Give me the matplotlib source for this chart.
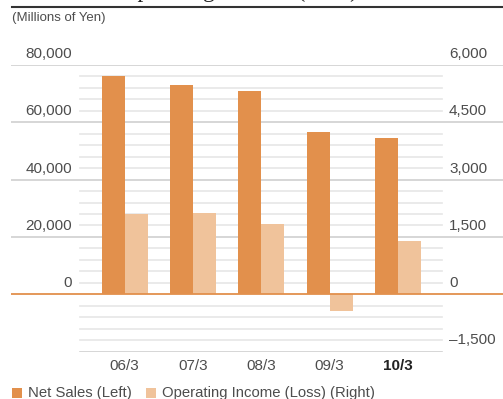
import matplotlib
matplotlib.use("Agg")
import matplotlib.pyplot as plt
from matplotlib.patches import Rectangle
import numpy as np

# Fiscal years and values
categories = ["06/3", "07/3", "08/3", "09/3", "10/3"]
net_sales = [76200, 73000, 70900, 56600, 54500]          # millions of yen (left axis)
operating_income = [2100, 2120, 1830, -440, 1390]        # millions of yen (right axis)
left_ticks = [0, 20000, 40000, 60000, 80000]
right_ticks = [-1500, 0, 1500, 3000, 4500, 6000]

ORANGE = "#E2904C"
LIGHT = "#F0C39B"
TEXT = "#4d4d4d"
FONT = "Liberation Sans"

W, H = 503, 399
fig = plt.figure(figsize=(W / 100, H / 100), dpi=100)

def fx(px):
    return px / W

def fy(py):
    return 1 - py / H

# axes covering the plotting band (pixels 11..503 horizontally, 65..351.5 vertically)
ax_l, ax_r, ax_t, ax_b = 11, 503, 65, 351.5
ax = fig.add_axes([fx(ax_l), fy(ax_b), fx(ax_r - ax_l), (ax_b - ax_t) / H])
ax2 = ax.twinx()
for a in (ax, ax2):
    a.set_axis_off()

unit = 68.3
xmin = -(124.7 - ax_l) / unit
xmax = xmin + (ax_r - ax_l) / unit
ax.set_xlim(xmin, xmax)
ax.set_ylim(-20000, 80000)
ax2.set_ylim(-1500, 6000)

# minor gridlines
g0 = (80 - ax_l) / (ax_r - ax_l)
g1 = (442 - ax_l) / (ax_r - ax_l)
for v in np.arange(-20000, 80001, 4000):
    if v % 20000 == 0 and v >= 0:
        continue
    col = "#d0d0d0" if v == -20000 else "#e6e6e6"
    ax.axhline(v, g0, g1, color=col, lw=1.2, zorder=0)
# major gridlines
for v in left_ticks[1:]:
    ax.axhline(v, 0, 1, color="#cfcfcf", lw=1.2, zorder=0)

x = np.arange(len(categories))
bw = 23 / unit
ax.bar(x - bw / 2, net_sales, width=bw, color=ORANGE, zorder=2, linewidth=0)
ax2.bar(x + bw / 2, operating_income, width=bw, color=LIGHT, zorder=2, linewidth=0)
ax2.axhline(0, 0, 1, color=ORANGE, lw=1.3, zorder=3)

# tick labels
def left_px(v):
    return 294.2 - v * (229.2 / 80000)

for v in left_ticks:
    fig.text(fx(72), fy(left_px(v) - 4), f"{v:,}", ha="right", va="bottom",
             fontsize=11, color=TEXT, family=FONT)
for v in right_ticks:
    py = 294.2 - v * (229.2 / 6000)
    lab = f"{v:,}".replace("-", "\u2013")
    fig.text(fx(449), fy(py - 4), lab, ha="left", va="bottom",
             fontsize=11, color=TEXT, family=FONT)

for i, c in enumerate(categories):
    fig.text(fx(124.7 + unit * i), fy(366), c, ha="center", va="center",
             fontsize=11, color=TEXT if i < 4 else "#222222", family=FONT,
             fontweight="bold" if i == 4 else "normal")

# unit note
fig.text(fx(12), fy(18), "(Millions of Yen)", ha="left", va="center",
         fontsize=9.5, color=TEXT, family=FONT)

# heading (runs off the top edge) and rule
fig.text(fx(12), fy(-2.5), "Net Sales / Operating Income (Loss)", ha="left",
         va="baseline", fontsize=17, color="#222222", family="Liberation Serif")
fig.add_artist(plt.Line2D([fx(12), fx(503)], [fy(6.5), fy(6.5)],
                          color="#333333", lw=1.5, transform=fig.transFigure))

# legend
for sx, col, lab in [(12, ORANGE, "Net Sales (Left)"),
                     (146, LIGHT, "Operating Income (Loss) (Right)")]:
    fig.add_artist(Rectangle((fx(sx), fy(398)), fx(10), 10 / H,
                             color=col, transform=fig.transFigure, lw=0))
    fig.text(fx(sx + 16), fy(393), lab, ha="left", va="center",
             fontsize=10.7, color=TEXT, family=FONT)

fig.savefig("out.png", dpi=100)
